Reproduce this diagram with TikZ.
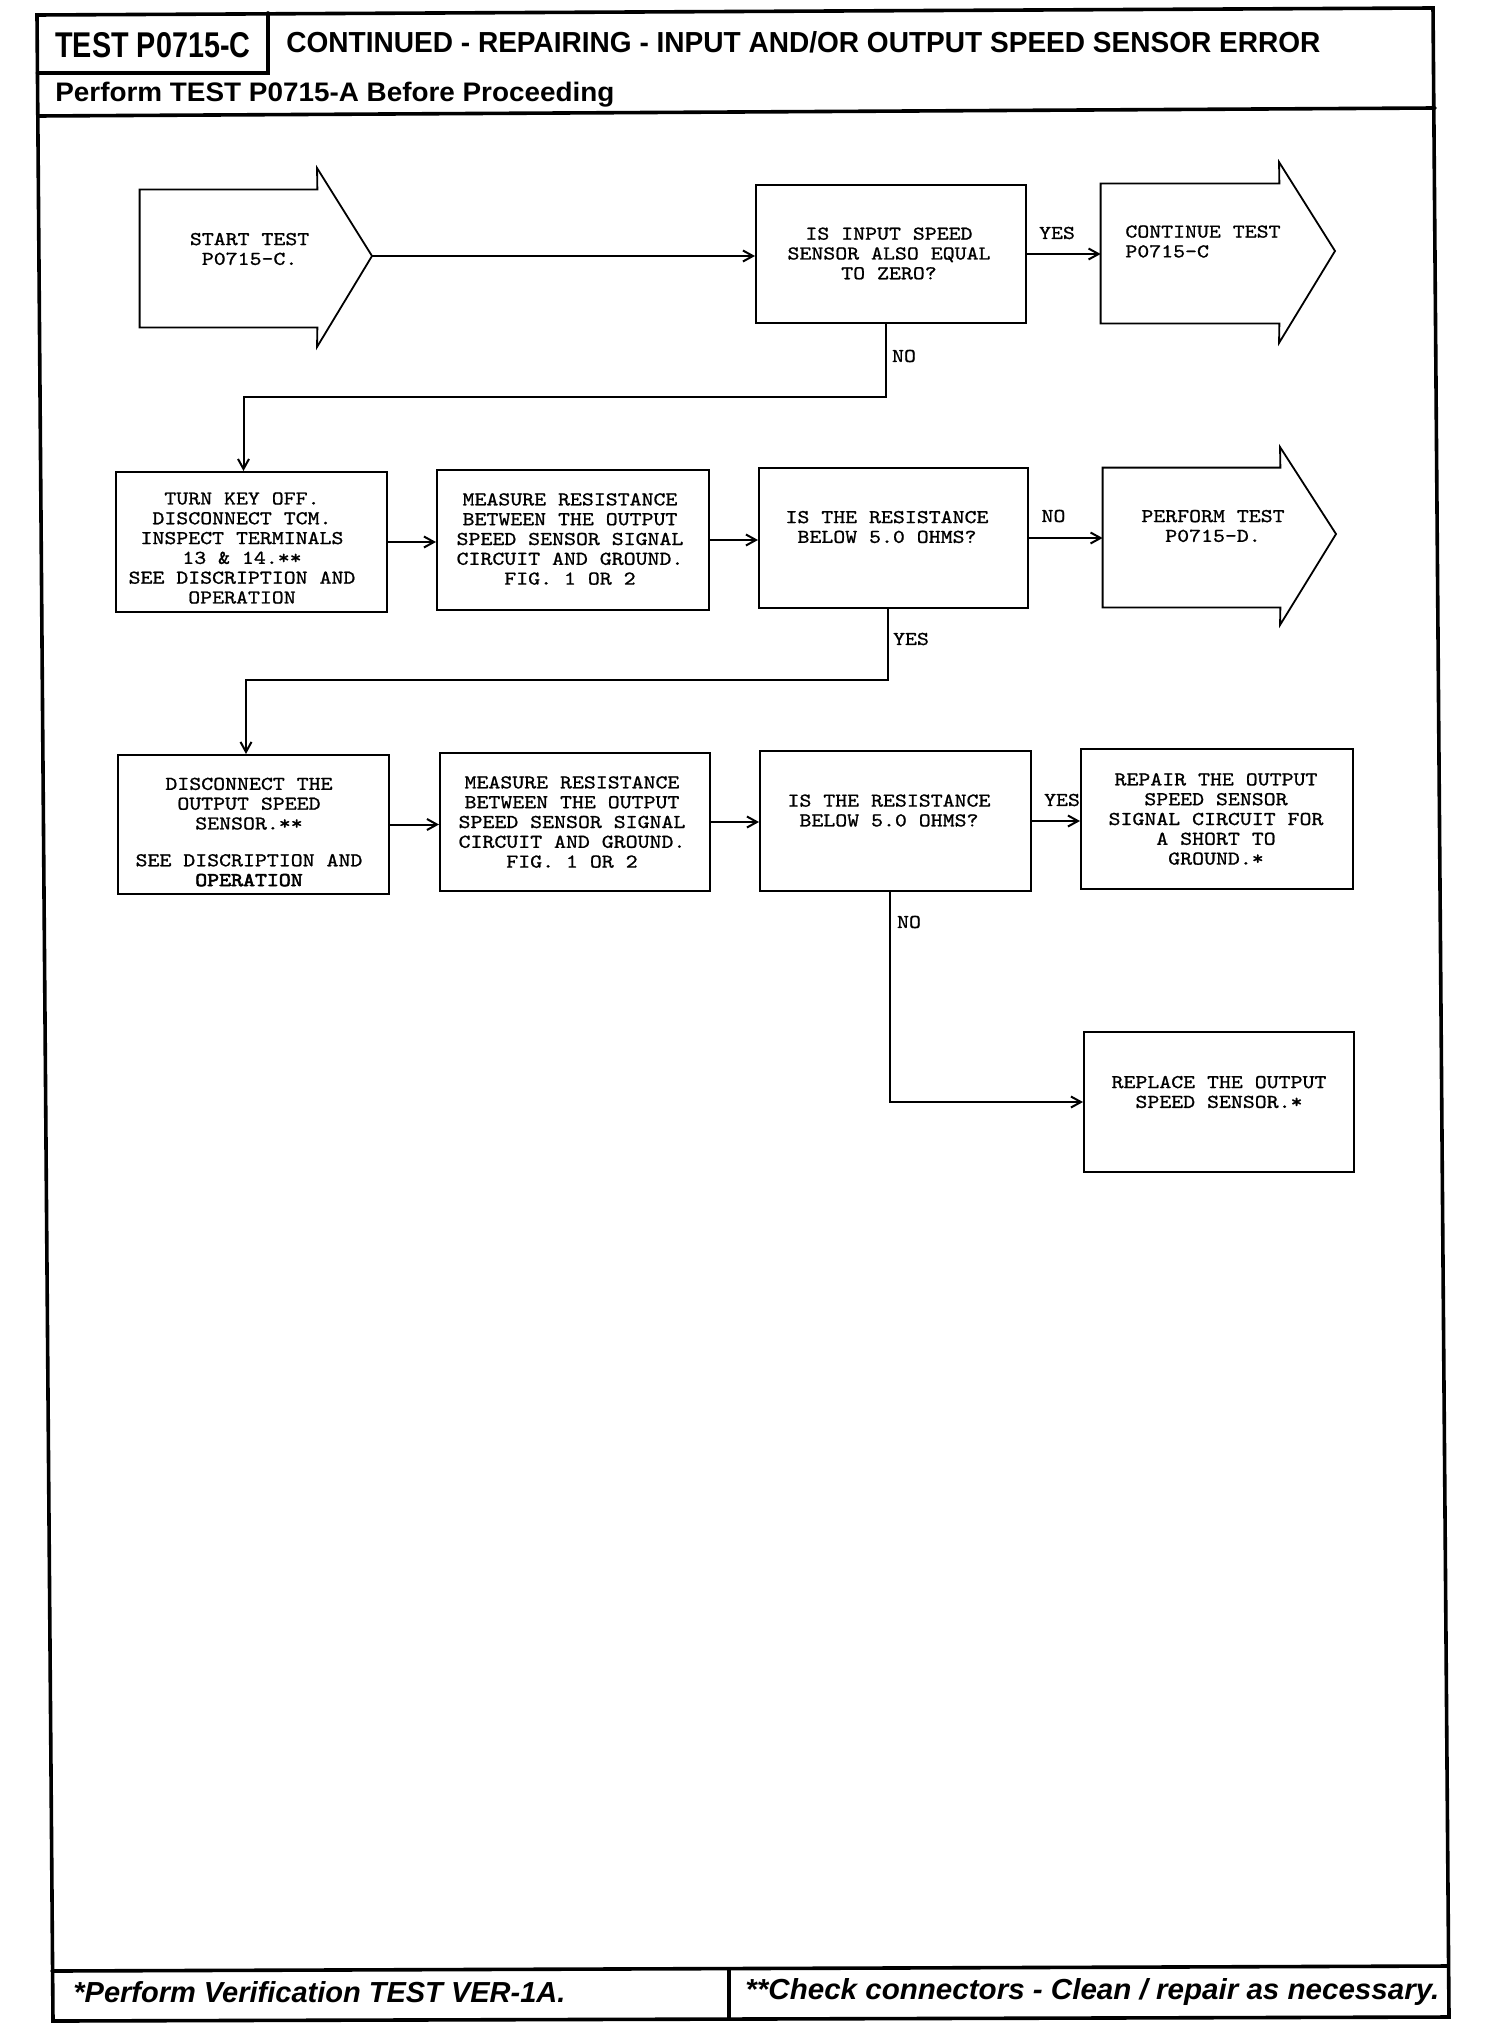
\documentclass[tikz,border=0pt]{standalone}
\usepackage{fontspec}
\setmainfont{Liberation Sans}
\newfontfamily\monofnt{lmmono10-regular.otf}[FakeStretch=1.16,FakeBold=1]
\newfontfamily\monoboldfnt{lmmono10-regular.otf}[FakeStretch=1.16,FakeBold=3]
\usetikzlibrary{arrows.meta,fit,calc}
\newcommand\monosel{\monofnt\fontsize{9.8pt}{9.9pt}\selectfont}
\tikzset{
  frame/.style={line width=1.8pt, line cap=round, line join=miter},
  flowbox/.style={draw, line width=1pt, inner sep=0pt},
  shapebody/.style={inner sep=0pt},
  arrowshape/.style={draw, line width=0.9pt, line join=miter},
  txt/.style={font=\monosel, align=center, inner sep=0pt},
  lbl/.style={font=\monosel, inner sep=0pt},
  conn/.style={line width=1pt},
  arr/.style={conn, -{Straight Barb[length=5pt,width=5.5pt,line width=1pt]}},
  hdr/.style={anchor=base west, inner sep=0pt},
}
\begin{document}
\begin{tikzpicture}[x=0.5pt,y=-0.5pt]
\useasboundingbox (0,0) rectangle (1504,2028);
\fill[white] (0,0) rectangle (1504,2028);

% ---------- frame ----------
\draw[frame] (37,15) -- (1433,8) -- (1449,2017) -- (53,2021) -- cycle;
\draw[frame] (38,116) -- (1435,108);
\draw[frame] (52,1971) -- (1448,1966);
\draw[frame] (268,13) -- (268,73) -- (37.5,73);
\draw[frame] (729,1969) -- (729,2019);

% ---------- header / footer texts ----------
\node[hdr] (testid) at (55,58) {\resizebox{97.5pt}{12.5pt}{\bfseries TEST P0715-C}};
\node[hdr] (title) at (286,53) {\resizebox{517pt}{10.5pt}{\bfseries CONTINUED - REPAIRING - INPUT AND/OR OUTPUT SPEED SENSOR ERROR}};
\node[hdr] (subtitle) at (55,102) {\resizebox{279.5pt}{9.7pt}{\bfseries Perform TEST P0715-A Before Proceeding}};
\node[hdr] (foot1) at (73,2002) {\resizebox{246pt}{10.5pt}{\bfseries\itshape *Perform Verification TEST VER-1A.}};
\node[hdr] (foot2) at (745,1999) {\resizebox{347pt}{10.5pt}{\bfseries\itshape **Check connectors - Clean / repair as necessary.}};

% ---------- row 1 ----------
\node[shapebody, fit={(140,190) (317,327)}] (startb) {};
\coordinate (starttip) at (372,256);
\draw[arrowshape] (startb.north east) -- (startb.north west) -- (startb.south west) -- (startb.south east) -- (317,347) -- (starttip) -- (317,168) -- cycle;
\node[txt] (startt) at (249.6,249) {START TEST\\P0715-C.};

\node[flowbox, fit={(756,185) (1026,323)}] (q1) {};
\node[txt] (q1t) at (889,253.5) {IS INPUT SPEED\\SENSOR ALSO EQUAL\\TO ZERO?};

\node[shapebody, fit={(1101,184) (1279,323)}] (contb) {};
\coordinate (conttip) at (1335,251);
\draw[arrowshape] (contb.north east) -- (contb.north west) -- (contb.south west) -- (contb.south east) -- (1279,343) -- (conttip) -- (1279,162) -- cycle;
\node[txt, align=left, anchor=west] (contt) at (1125,241.5) {CONTINUE TEST\\P0715-C};

% ---------- row 2 ----------
\node[flowbox, fit={(116,472) (387,612)}] (turn) {};
\node[txt] (turnt) at (242,548) {TURN KEY OFF.\\DISCONNECT TCM.\\INSPECT TERMINALS\\13 \& 14.**\\SEE DISCRIPTION AND\\OPERATION};

\node[flowbox, fit={(437,470) (709,610)}] (meas1) {};
\node[txt] (meas1t) at (570,539) {MEASURE RESISTANCE\\BETWEEN THE OUTPUT\\SPEED SENSOR SIGNAL\\CIRCUIT AND GROUND.\\FIG. 1 OR 2};

\node[flowbox, fit={(759,468) (1028,608)}] (q2) {};
\node[txt] (q2t) at (887,527) {IS THE RESISTANCE\\BELOW 5.0 OHMS?};

\node[shapebody, fit={(1103,468) (1280,607)}] (perfb) {};
\coordinate (perftip) at (1336,534);
\draw[arrowshape] (perfb.north east) -- (perfb.north west) -- (perfb.south west) -- (perfb.south east) -- (1280,625) -- (perftip) -- (1280,447) -- cycle;
\node[txt] (perft) at (1213,526) {PERFORM TEST\\P0715-D.};

% ---------- row 3 ----------
\node[flowbox, fit={(118,755) (389,894)}] (disc) {};
\node[txt] (disct) at (249,832) {DISCONNECT THE\\OUTPUT SPEED\\SENSOR.**\\[8.5pt]SEE DISCRIPTION AND\\{\monoboldfnt\fontsize{9.8pt}{9.9pt}\selectfont OPERATION}};

\node[flowbox, fit={(440,753) (710,891)}] (meas2) {};
\node[txt] (meas2t) at (572,822) {MEASURE RESISTANCE\\BETWEEN THE OUTPUT\\SPEED SENSOR SIGNAL\\CIRCUIT AND GROUND.\\FIG. 1 OR 2};

\node[flowbox, fit={(760,751) (1031,891)}] (q3) {};
\node[txt] (q3t) at (889,810.5) {IS THE RESISTANCE\\BELOW 5.0 OHMS?};

\node[flowbox, fit={(1081,749) (1353,889)}] (repair) {};
\node[txt] (repairt) at (1216,819) {REPAIR THE OUTPUT\\SPEED SENSOR\\SIGNAL CIRCUIT FOR\\A SHORT TO\\GROUND.*};

\node[flowbox, fit={(1084,1032) (1354,1172)}] (replace) {};
\node[txt] (replacet) at (1219,1092) {REPLACE THE OUTPUT\\SPEED SENSOR.*};

% ---------- connectors ----------
\draw[arr] (starttip) -- (starttip -| q1.west);
\draw[arr] (q1.east) -- (q1.east -| contb.west);
\node[lbl] (yes1) at (1057,233) {YES};
\draw[arr] ($(q1.south)+(-5,0)$) -- ++(0,73) -| ($(turn.north)+(-8,0)$);
\node[lbl] (no1) at (904,356) {NO};

\draw[arr] (turn.east) -- (turn.east -| meas1.west);
\draw[arr] (meas1.east) -- (meas1.east -| q2.west);
\draw[arr] (q2.east) -- (q2.east -| perfb.west);
\node[lbl] (no2) at (1053.5,516) {NO};
\draw[arr] ($(q2.south)+(-6,0)$) -- ++(0,71) -| ($(disc.north)+(-7.5,0)$);
\node[lbl] (yes2) at (911,639) {YES};

\draw[arr] (disc.east) -- (disc.east -| meas2.west);
\draw[arr] (meas2.east) -- (meas2.east -| q3.west);
\draw[arr] (q3.east) -- (q3.east -| repair.west);
\node[lbl] (yes3) at (1062,800) {YES};
\draw[arr] ($(q3.south)+(-6,0)$) |- (replace.west);
\node[lbl] (no3) at (909,922) {NO};
\end{tikzpicture}
\end{document}
